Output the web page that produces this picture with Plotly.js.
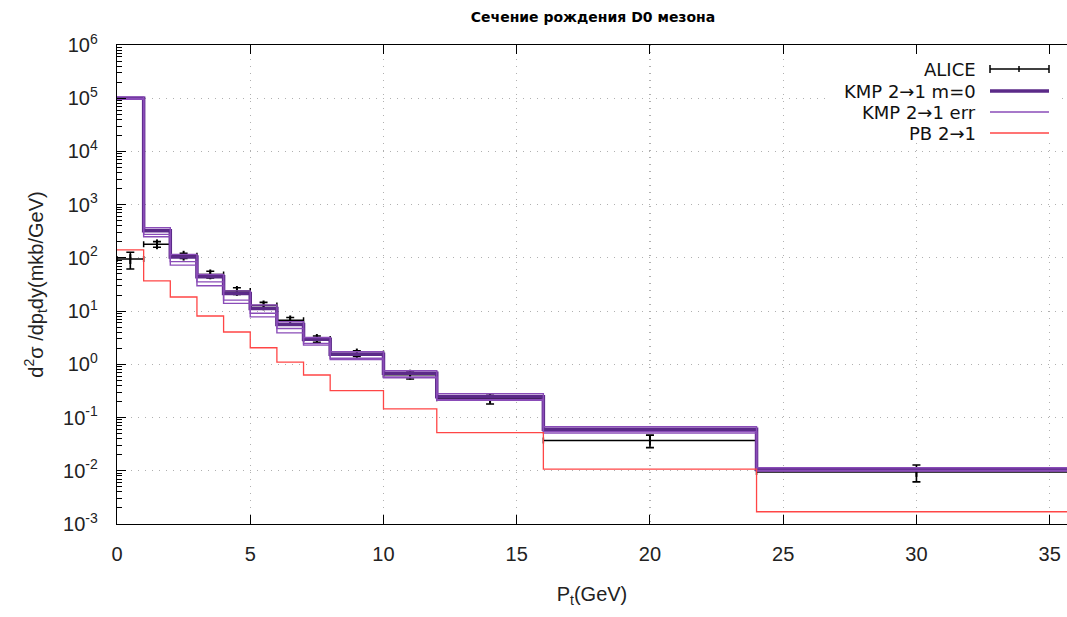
<!DOCTYPE html>
<html>
<head>
<meta charset="utf-8">
<script src="https://cdn.plot.ly/plotly-3.0.1.min.js"></script>
<style>
  html, body { margin: 0; padding: 0; background: #fff; }
  #chart { width: 1067px; height: 617px; }
</style>
</head>
<body>
<div id="chart"></div>
<script>
// Pt bin edges (GeV)
const binEdges = [0, 1, 2, 3, 4, 5, 6, 7, 8, 10, 12, 16, 24, 36];

// ALICE measurement: bin centres, half-widths, values and errors (mkb/GeV)
const aliceX    = [0.5, 1.5, 2.5, 3.5, 4.5, 5.5, 6.5, 7.5, 9, 11, 14, 20, 30];
const aliceHalf = [0.5, 0.5, 0.5, 0.5, 0.5, 0.5, 0.5, 0.5, 1, 1, 2, 4, 6];
const aliceY    = [95, 180, 110, 49, 24, 12.8, 6.7, 3.0, 1.6, 0.64, 0.23, 0.037, 0.0095];
const aliceErr  = [33, 22, 12, 7, 3.5, 1.8, 0.9, 0.4, 0.2, 0.11, 0.05, 0.0098, 0.0033];

// KMP 2->1, m = 0 (central curve)
const kmpCentral = [1.0e5, 325, 104, 44, 21.4, 11.2, 5.6, 2.95, 1.55, 0.68, 0.245, 0.060, 0.0106];
// KMP 2->1 uncertainty curves
const kmpErrHigh = [1.06e5, 368, 116, 49, 24, 13, 6.3, 3.2, 1.72, 0.76, 0.28, 0.067, 0.0114];
const kmpErrLow  = [0.98e5, 276, 85, 35.5, 16.1, 9.1, 4.7, 2.47, 1.3, 0.58, 0.22, 0.054, 0.0101];
const kmpErrLow2 = [0.95e5, 250, 73, 30, 14, 7.8, 3.9, 2.3, 1.23, 0.56, 0.21, 0.051, 0.0099];

// PB 2->1
const pbValues = [141, 37, 18.4, 8.1, 4.05, 2.05, 1.1, 0.63, 0.32, 0.145, 0.052, 0.0107, 0.0017];

// Legend labels
const legendLabels = ["ALICE", "KMP 2\u21921 m=0", "KMP 2\u21921 err", "PB 2\u21921"];

// Y tick labels (decades)
const yTickVals = [1e-3, 1e-2, 1e-1, 1e0, 1e1, 1e2, 1e3, 1e4, 1e5, 1e6];
const yTickText = ["10<sup>-3</sup>", "10<sup>-2</sup>", "10<sup>-1</sup>", "10<sup>0</sup>",
                   "10<sup>1</sup>", "10<sup>2</sup>", "10<sup>3</sup>", "10<sup>4</sup>",
                   "10<sup>5</sup>", "10<sup>6</sup>"];

const colAlice = "#000000";
const colKmp = "#5b2a88";
const colKmpErr = "#8a4cb8";
const colPb = "#ff4646";

// histogram-style step series: value held over each bin
function stepY(vals) { return vals.concat([vals[vals.length - 1]]); }

function stepTrace(vals, color, width) {
  return {
    x: binEdges, y: stepY(vals), type: "scatter", mode: "lines",
    line: { shape: "hv", color: color, width: width },
    showlegend: false, hoverinfo: "skip"
  };
}

const traces = [
  {
    x: aliceX, y: aliceY, type: "scatter", mode: "markers",
    marker: { symbol: "line-ns-open", size: 7, color: colAlice, line: { color: colAlice, width: 2 } },
    error_x: { type: "data", array: aliceHalf, visible: true, color: colAlice, thickness: 1.5, width: 3 },
    error_y: { type: "data", array: aliceErr, visible: true, color: colAlice, thickness: 1.6, width: 4 },
    showlegend: false
  },
  stepTrace(kmpCentral, colKmp, 3.5),
  stepTrace(kmpErrHigh, colKmpErr, 1.4),
  stepTrace(kmpErrLow, colKmpErr, 1.4),
  stepTrace(kmpErrLow2, colKmpErr, 1.4),
  stepTrace(pbValues, colPb, 1.3)
];

// minor ticks 2..9 within each decade
const yMinor = [];
for (let e = -3; e < 6; e++) {
  for (let m = 2; m <= 9; m++) yMinor.push(m * Math.pow(10, e));
}

// key drawn at the upper right: text right-aligned, sample to the right
const plotL = 117, plotR = 1067, plotT = 45, plotB = 524;
const px = v => (v - plotL) / (plotR - plotL);
const py = v => (plotB - v) / (plotB - plotT);
const keyRows = [69, 91, 112, 133];
const keyTextX = 978, keyL = 990, keyR = 1049, keyMid = 1019;

const shapes = [
  { type: "rect", xref: "paper", yref: "paper", x0: px(826), x1: px(1058), y0: py(143), y1: py(57),
    fillcolor: "#ffffff", line: { width: 0 }, layer: "above" },
  // ALICE sample
  { type: "line", xref: "paper", yref: "paper", x0: px(keyL), x1: px(keyR), y0: py(keyRows[0]), y1: py(keyRows[0]),
    line: { color: colAlice, width: 1.5 }, layer: "above" },
  { type: "line", xref: "paper", yref: "paper", x0: px(keyL), x1: px(keyL), y0: py(keyRows[0] - 4), y1: py(keyRows[0] + 4),
    line: { color: colAlice, width: 1.5 }, layer: "above" },
  { type: "line", xref: "paper", yref: "paper", x0: px(keyR), x1: px(keyR), y0: py(keyRows[0] - 4), y1: py(keyRows[0] + 4),
    line: { color: colAlice, width: 1.5 }, layer: "above" },
  { type: "line", xref: "paper", yref: "paper", x0: px(keyMid), x1: px(keyMid), y0: py(keyRows[0] - 3), y1: py(keyRows[0] + 3),
    line: { color: colAlice, width: 1.5 }, layer: "above" },
  // KMP central sample
  { type: "line", xref: "paper", yref: "paper", x0: px(keyL), x1: px(keyR), y0: py(keyRows[1]), y1: py(keyRows[1]),
    line: { color: colKmp, width: 3.5 }, layer: "above" },
  // KMP err sample
  { type: "line", xref: "paper", yref: "paper", x0: px(keyL), x1: px(keyR), y0: py(keyRows[2]), y1: py(keyRows[2]),
    line: { color: colKmpErr, width: 1.4 }, layer: "above" },
  // PB sample
  { type: "line", xref: "paper", yref: "paper", x0: px(keyL), x1: px(keyR), y0: py(keyRows[3]), y1: py(keyRows[3]),
    line: { color: colPb, width: 1.3 }, layer: "above" }
];

const annotations = legendLabels.map((t, i) => ({
  text: t, xref: "paper", yref: "paper", x: px(keyTextX), y: py(keyRows[i]),
  xanchor: "right", yanchor: "middle", showarrow: false,
  font: { family: "DejaVu Sans, sans-serif", size: 18, color: "#111" }
}));

const gridStyle = { showgrid: true, gridcolor: "#b0b0b0", griddash: "1px,6px", gridwidth: 1.2 };

const layout = {
  width: 1067, height: 617,
  margin: { l: plotL, r: 0, t: plotT, b: 617 - plotB },
  paper_bgcolor: "#ffffff", plot_bgcolor: "#ffffff",
  title: {
    text: "<b>Сечение рождения D0 мезона</b>",
    font: { family: "DejaVu Sans, sans-serif", size: 14, color: "#000" },
    x: 593 / 1067, xref: "container", xanchor: "center", y: 1 - 17 / 617, yref: "container", yanchor: "middle"
  },
  xaxis: Object.assign({
    range: [0, 35.65], tickvals: [0, 5, 10, 15, 20, 25, 30, 35],
    ticks: "inside", ticklen: 9, tickwidth: 1, tickcolor: "#000",
    showline: true, linecolor: "#000", linewidth: 1.2, mirror: "ticks",
    zeroline: false, ticklabelstandoff: 12,
    tickfont: { family: "Liberation Sans, Arial, sans-serif", size: 20, color: "#222" },
    title: { text: "P<sub>t</sub>(GeV)", standoff: 22,
             font: { family: "Liberation Sans, Arial, sans-serif", size: 20, color: "#222" } }
  }, gridStyle),
  yaxis: Object.assign({
    type: "log", range: [-3, 6], tickvals: yTickVals, ticktext: yTickText,
    ticks: "inside", ticklen: 9, tickwidth: 1, tickcolor: "#000",
    minor: { tickvals: yMinor, ticks: "inside", ticklen: 5, tickcolor: "#000", showgrid: false },
    showline: true, linecolor: "#000", linewidth: 1.2, mirror: false,
    zeroline: false, ticklabelstandoff: 14,
    tickfont: { family: "Liberation Sans, Arial, sans-serif", size: 20, color: "#222" },
    title: { text: "d<sup>2</sup>σ /dp<sub>t</sub>dy(mkb/GeV)", standoff: 14,
             font: { family: "Liberation Sans, Arial, sans-serif", size: 20, color: "#222" } }
  }, gridStyle),
  shapes: shapes,
  annotations: annotations,
  showlegend: false
};

Plotly.newPlot("chart", traces, layout, { displayModeBar: false, staticPlot: true });
</script>
</body>
</html>
